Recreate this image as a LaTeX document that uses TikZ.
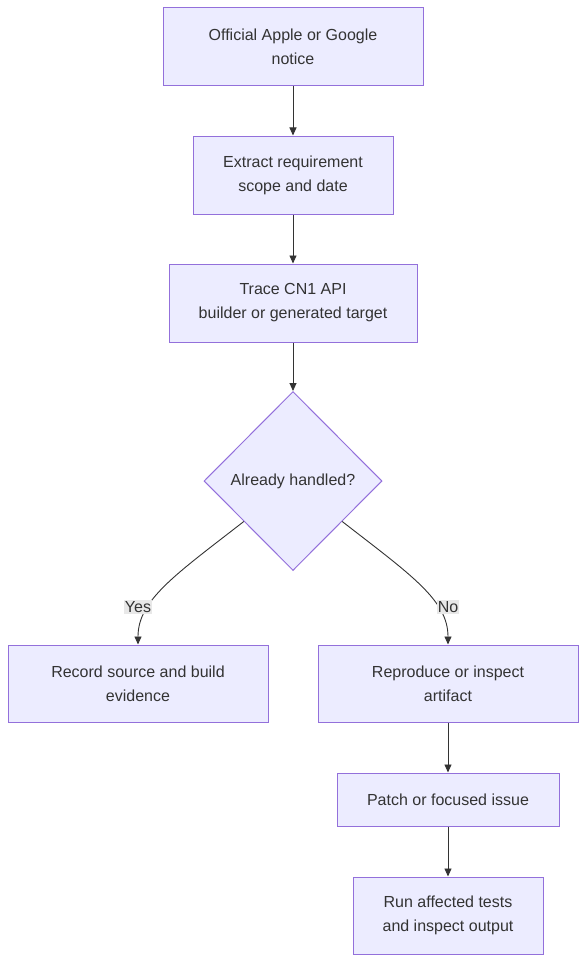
\documentclass[tikz,border=0pt]{standalone}
\usepackage{fontspec}
\setmainfont{Liberation Sans}
\usetikzlibrary{shapes.geometric,arrows.meta,calc}
\definecolor{boxfill}{HTML}{ECECFF}
\definecolor{boxline}{HTML}{9370DB}
\definecolor{ink}{HTML}{333333}
\definecolor{lblfill}{HTML}{E8E8E8}
\tikzset{
  stepbox/.style={draw=boxline, fill=boxfill, line width=1pt, align=center, inner sep=0pt, text=ink,
    font=\fontsize{16}{24}\selectfont},
  choice/.style={shape=diamond, draw=boxline, fill=boxfill, line width=1pt, inner sep=0pt, text=ink,
    minimum width=178pt, minimum height=179pt, font=\fontsize{16}{24}\selectfont},
  lbl/.style={fill=lblfill, text=ink, inner sep=1pt, font=\fontsize{16}{20}\selectfont},
  arr/.style={-{Triangle[width=7pt,length=8pt]}, draw=ink, line width=0.9pt},
}
\begin{document}
\begin{tikzpicture}[x=1pt, y=-1pt]
\useasboundingbox (0,0) rectangle (586,963);
\node[stepbox, minimum width=260pt, minimum height=78pt] (notice) at (293,47) {Official Apple or Google\\notice};
\node[stepbox, minimum width=200pt, minimum height=78pt] (scope) at (293,175) {Extract requirement\\scope and date};
\node[stepbox, minimum width=248pt, minimum height=78pt] (trace) at (293,303) {Trace CN1 API\\builder or generated target};
\node[choice] (handled) at (293,481) {Already handled?};
\node[stepbox, minimum width=260pt, minimum height=77pt] (record) at (138,683.5) {Record source and build\\evidence};
\node[stepbox, minimum width=260pt, minimum height=77pt] (repro) at (448,683.5) {Reproduce or inspect\\artifact};
\node[stepbox, minimum width=222pt, minimum height=53pt] (patch) at (448,799.5) {Patch or focused issue};
\node[stepbox, minimum width=190pt, minimum height=77pt] (tests) at (448,915.5) {Run affected tests\\and inspect output};
\coordinate (yesout) at ($(handled.west)!0.45!(handled.south)$);
\coordinate (noout) at ($(handled.east)!0.45!(handled.south)$);
\draw[arr] (notice) -- (scope);
\draw[arr] (scope) -- (trace);
\draw[arr] (trace) -- (handled);
\draw[arr] (yesout) .. controls (175,575) and (138,600) .. (record.north);
\draw[arr] (noout) .. controls (411,575) and (448,600) .. (repro.north);
\node[lbl] (yes) at (138,607) {Yes};
\node[lbl] (no) at (448,607) {No};
\draw[arr] (repro) -- (patch);
\draw[arr] (patch) -- (tests);
\end{tikzpicture}
\end{document}
